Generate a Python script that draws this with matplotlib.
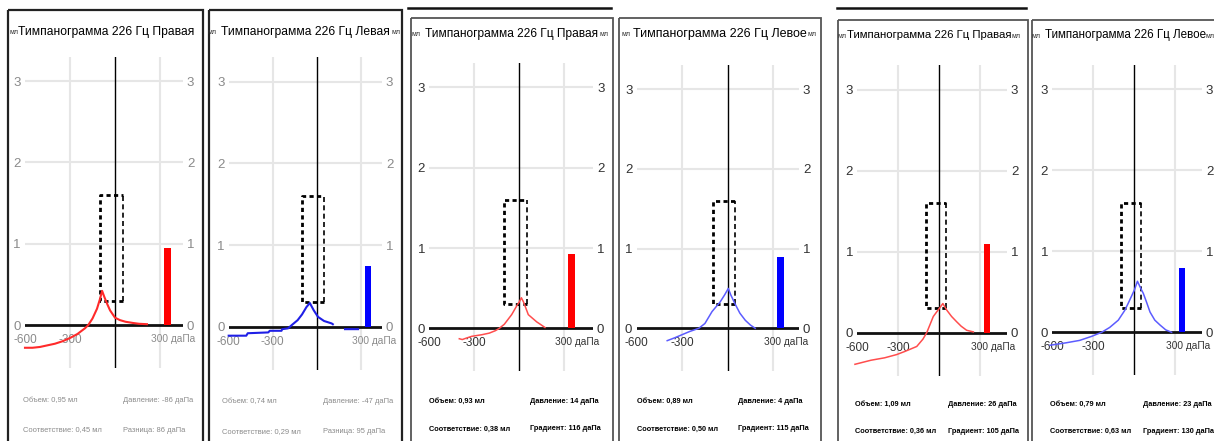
import matplotlib
matplotlib.use('Agg')
import numpy as np
import matplotlib.pyplot as plt
from matplotlib import font_manager
from matplotlib.patches import Rectangle

W, H = 1214, 441

# ---- data ----
titles = ['Тимпанограмма 226 Гц Правая', 'Тимпанограмма 226 Гц Левая',
          'Тимпанограмма 226 Гц Правая', 'Тимпанограмма 226 Гц Левое',
          'Тимпанограмма 226 Гц Правая', 'Тимпанограмма 226 Гц Левое']
ear = ['R', 'L', 'R', 'L', 'R', 'L']
volume = [0.95, 0.74, 0.93, 0.89, 1.09, 0.79]
pressure = [-86, -47, 14, 4, 26, 23]
compliance = [0.45, 0.29, 0.38, 0.50, 0.36, 0.63]
gradient = [86, 95, 116, 115, 105, 130]
grad_name = ['Разница', 'Разница', 'Градиент', 'Градиент', 'Градиент', 'Градиент']

bar_pos = 350          # daPa where the volume bar sits
norm_box = (-100, 50, 0.3, 1.6)   # pressure from/to, compliance from/to

p1_x = [-600, -550, -500, -450, -400, -350, -300, -250, -200, -178, -150, -120, -100, -86, -70, -50, -33, 0, 33, 70, 120, 160, 213]
p1_y = [-0.28, -0.28, -0.27, -0.25, -0.23, -0.2, -0.16, -0.11, -0.04, 0.0, 0.08, 0.2, 0.32, 0.42, 0.34, 0.25, 0.18, 0.09, 0.06, 0.04, 0.025, 0.015, 0.01]
p2_x = [-600, -480, -470, -330, -320, -240, -235, -195, -170, -130, -100, -70, -47, -20, 9, 50, 102, 110, np.nan, 193, 282]
p2_y = [-0.11, -0.11, -0.08, -0.07, -0.05, -0.05, -0.03, -0.02, 0.02, 0.08, 0.15, 0.24, 0.29, 0.2, 0.12, 0.07, 0.04, 0.03, np.nan, -0.03, -0.03]
p3_x = [-400, -380, -350, -317, -250, -200, -160, -133, -100, -51, -20, 0, 14, 30, 60, 116, 140, 171]
p3_y = [-0.13, -0.14, -0.12, -0.1, -0.08, -0.06, -0.03, 0.0, 0.05, 0.17, 0.27, 0.33, 0.38, 0.32, 0.17, 0.08, 0.05, 0.01]
p4_x = [-398, -350, -300, -250, -190, -150, -103, -50, -20, 4, 20, 50, 80, 116, 150, 181]
p4_y = [-0.155, -0.12, -0.08, -0.04, 0.0, 0.06, 0.21, 0.33, 0.42, 0.5, 0.42, 0.3, 0.19, 0.1, 0.04, 0.0]
p5_x = [-617, -500, -400, -312, -250, -165, -120, -92, -44, 0, 26, 54, 90, 127, 160, 200, 249]
p5_y = [-0.39, -0.34, -0.31, -0.27, -0.23, -0.17, -0.08, 0.0, 0.2, 0.3, 0.36, 0.28, 0.2, 0.135, 0.08, 0.03, 0.01]
p6_x = [-617, -500, -400, -312, -239, -180, -117, -70, -44, 0, 23, 45, 66, 90, 115, 150, 188, 230, 273]
p6_y = [-0.16, -0.13, -0.1, -0.05, 0.0, 0.06, 0.15, 0.27, 0.36, 0.52, 0.63, 0.55, 0.48, 0.37, 0.25, 0.15, 0.09, 0.03, 0.0]
curves = [(p1_x, p1_y), (p2_x, p2_y), (p3_x, p3_y), (p4_x, p4_y), (p5_x, p5_y), (p6_x, p6_y)]

# ---- layout in pixels ----
# x of 0 daPa, px per daPa, y of 0 ml, px per ml, right end of axis (daPa)
geom = [(115.0, 0.150, 325.0, 81.3, 451),
        (316.7, 0.1467, 326.7, 81.7, 443),
        (519.3, 0.150, 328.3, 80.3, 490),
        (727.7, 0.152, 328.3, 79.7, 467),
        (939.3, 0.1367, 332.7, 81.0, 493),
        (1134.3, 0.1367, 332.3, 81.0, 493)]
boxes = [(8, 10, 203), (209, 10, 402), (411, 18, 613), (619, 18, 821), (838, 20, 1028), (1032, 20, 1218)]
top_lines = [None, None, (408, 611, 8), None, (837, 1026, 8), None]
title_pos = [(18, 32, 176), (221, 32, 169), (425, 34, 173), (633, 34, 174), (847, 35, 165), (1045, 35, 162)]
unit_left = [10, 208, 412, 622, 838, 1032]
unit_right = [None, 391, 599, 807, 1012, 1205]
stat_rows = [(401, 430), (401.7, 431.7), (401.7, 429), (401.7, 429), (404, 431.7), (404, 431.7)]
stat_cols = [(23, 123), (221.7, 323), (429, 530), (637, 738), (855, 948), (1050, 1143)]
YLO, YHI = -0.53, 3.3

names = {f.name for f in font_manager.fontManager.ttflist}
FONT = 'Liberation Sans Narrow' if 'Liberation Sans Narrow' in names else 'Liberation Sans'
plt.rcParams['font.family'] = [FONT, 'DejaVu Sans']

fig = plt.figure(figsize=(W / 100, H / 100), dpi=100)
fig.patch.set_facecolor('white')

# overlay in pixel coordinates for frames and texts
ov = fig.add_axes([0, 0, 1, 1], zorder=-1)
ov.set_xlim(0, W)
ov.set_ylim(H, 0)
ov.axis('off')

renderer = fig.canvas.get_renderer()

def fit(t, width):
    w = t.get_window_extent(renderer).width
    t.set_fontsize(t.get_fontsize() * width / w)

for i in range(6):
    old = i < 2
    x0, sx, y0, sy, xr = geom[i]
    left = x0 - 600 * sx
    right = x0 + xr * sx
    top = y0 - YHI * sy
    bottom = y0 - YLO * sy

    # frame
    bl, bt, br = boxes[i]
    ov.add_patch(Rectangle((bl, bt), br - bl, H + 10 - bt, fill=False,
                           ec='#222222' if old else '#555555', lw=1.6 if old else 1.3))
    if top_lines[i] is not None:
        a, b, y = top_lines[i]
        ov.plot([a, b], [y, y], color='#111111', lw=1.8)

    # title and unit marks
    tx, ty, tw = title_pos[i]
    t = ov.text(tx, ty, titles[i], fontsize=12, va='center', ha='left', color='black')
    fit(t, tw)
    ov.text(unit_left[i], ty + 1, 'мл', fontsize=5, va='center', ha='left', color='#333333')
    if unit_right[i] is not None:
        ov.text(unit_right[i], ty + 1, 'мл', fontsize=5, va='center', ha='left', color='#333333')

    # stats
    scol = '#8a8a8a' if old else 'black'
    sw = 'normal' if old else 'bold'
    r1, r2 = stat_rows[i]
    c1, c2 = stat_cols[i]
    t1 = ov.text(c1, r1, f'Объем: {volume[i]:.2f} мл'.replace('.', ','), fontsize=7,
                 va='center', ha='left', color=scol, fontweight=sw)
    fit(t1, 54 if old else 56)
    fs = t1.get_fontsize()
    ov.text(c2, r1, f'Давление: {pressure[i]} даПа', fontsize=fs, va='center', ha='left', color=scol, fontweight=sw)
    ov.text(c1, r2, f'Соответствие: {compliance[i]:.2f} мл'.replace('.', ','), fontsize=fs,
            va='center', ha='left', color=scol, fontweight=sw)
    ov.text(c2, r2, f'{grad_name[i]}: {gradient[i]} даПа', fontsize=fs, va='center', ha='left', color=scol, fontweight=sw)

    # chart
    ax = fig.add_axes([left / W, 1 - bottom / H, (right - left) / W, (bottom - top) / H])
    ax.patch.set_alpha(0)
    ax.set_xlim(-600, xr)
    ax.set_ylim(YLO, YHI)
    for s in ax.spines.values():
        s.set_visible(False)
    ax.set_xticks([])
    ax.set_yticks([0, 1, 2, 3])
    lab_col = '#8a8a8a' if old else '#333333'
    ax.tick_params(axis='y', length=0, pad=3, labelright=True, labelsize=9.5, labelcolor=lab_col)
    for yv in [1, 2, 3]:
        ax.axhline(yv, color='#e6e6e6', lw=1.5, zorder=0)
    for xv in [-300, 300]:
        ax.axvline(xv, color='#e6e6e6', lw=1.5, zorder=0)
    ax.axvline(0, color='black', lw=1.0, zorder=1)
    ax.axhline(0, color='#111111', lw=2.0, zorder=2)

    # x labels under the zero line
    ax.text(-600, -0.11, '-600', ha='center', va='top', fontsize=8.5, color=lab_col)
    ax.text(-300, -0.11, '-300', ha='center', va='top', fontsize=8.5, color=lab_col)
    t300 = ax.text(300 - 9 / sx, -0.11, '300 даПа', ha='left', va='top', fontsize=8.5, color=lab_col)
    fit(t300, 44)

    # normal range box
    px0, px1, py0, py1 = norm_box
    ax.plot([px1, px0, px0, px1], [py0, py0, py1, py1], color='black', lw=2.0,
            ls=(0, (1.5, 1.2)), zorder=3)
    ax.plot([px1, px1], [py0, py1], color='black', lw=1.2, ls=(0, (3, 2)), zorder=3)

    # curve and volume bar
    if ear[i] == 'R':
        ccol = '#ff2a2a' if old else '#ff4d4d'
        bcol = '#ff0000'
    else:
        ccol = '#1f1fe6' if old else '#5c5cff'
        bcol = '#0000ff'
    cx, cy = curves[i]
    ax.plot(cx, cy, color=ccol, lw=1.5 if old else 1.1, zorder=4, clip_on=False)
    ax.bar([bar_pos], [volume[i]], width=45, color=bcol, zorder=4)

fig.savefig('out.png', dpi=100, facecolor='white')
